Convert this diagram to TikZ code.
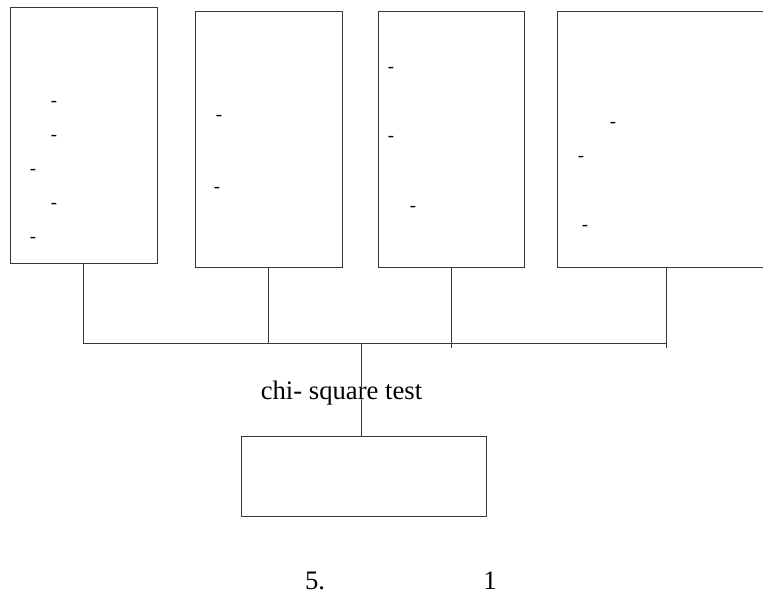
\documentclass[tikz,border=0pt]{standalone}
\usepackage{fontspec}
\setmainfont{Liberation Serif}
\usetikzlibrary{positioning}
\definecolor{linegray}{RGB}{55,55,55}
\tikzset{
  grpbox/.style={rectangle, draw=linegray, line width=0.75pt, inner sep=0pt,
    minimum height=192pt},
  resbox/.style={rectangle, draw=linegray, line width=0.75pt, inner sep=0pt,
    minimum width=183.75pt, minimum height=60pt},
  linkstyle/.style={draw=linegray, line width=0.6pt},
  hyph/.style={inner sep=0pt, font=\fontsize{14}{16}\selectfont},
  bigtext/.style={inner sep=0pt, font=\fontsize{20}{24}\selectfont}
}

\begin{document}
\begin{tikzpicture}[x=0.75pt, y=-0.75pt]
  \useasboundingbox (0,0) rectangle (763,607);
  % four groups on top
  \node[grpbox, minimum width=110.25pt] (g1) at (83.5,135) {};
  \node[grpbox, minimum width=110.25pt] (g2) at (268.5,139) {};
  \node[grpbox, minimum width=109.5pt]  (g3) at (451,139) {};
  \node[grpbox, minimum width=163.5pt]  (g4) at (666,139) {};
  % entries inside the groups
  \node[hyph] (d11) at (54,104) {-};
  \node[hyph] (d12) at (54,138) {-};
  \node[hyph] (d13) at (33,172) {-};
  \node[hyph] (d14) at (54,206) {-};
  \node[hyph] (d15) at (33,240) {-};
  \node[hyph] (d21) at (219,118) {-};
  \node[hyph] (d22) at (217,190) {-};
  \node[hyph] (d31) at (391,70) {-};
  \node[hyph] (d32) at (391,139) {-};
  \node[hyph] (d33) at (413,209) {-};
  \node[hyph] (d41) at (613,125) {-};
  \node[hyph] (d42) at (581,159) {-};
  \node[hyph] (d43) at (585,228) {-};
  % result box and labels
  \node[resbox] (res) at (363.5,476) {};
  \node[bigtext] (test) at (341.5,393) {chi- square test};
  \node[bigtext] (capnum) at (315,581) {5.};
  \node[bigtext] (capone) at (490,581) {1};
  % joining lines
  \coordinate (bus) at (361,343);
  \draw[linkstyle] (g1.south) -- (g1.south |- bus) -- (g4.south |- bus);
  \draw[linkstyle] (g2.south) -- (g2.south |- bus);
  \draw[linkstyle] (g3.south) -- ([yshift=-3.5pt]g3.south |- bus);
  \draw[linkstyle] (g4.south) -- ([yshift=-3.5pt]g4.south |- bus);
  \draw[linkstyle] (bus) -- (bus |- res.north);
\end{tikzpicture}
\end{document}
